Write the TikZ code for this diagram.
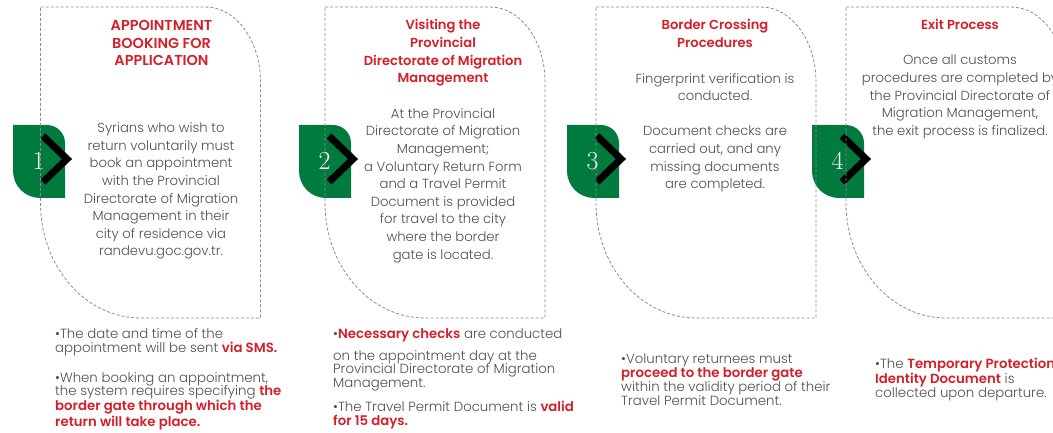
\documentclass[tikz,border=0pt]{standalone}
\usepackage{fontspec}
\newfontfamily\pop{Poppins}[UprightFont=* Light, BoldFont=* SemiBold]
\definecolor{grn}{HTML}{007A3D}
\definecolor{rd}{HTML}{D3202A}
\definecolor{txt}{HTML}{505050}
\definecolor{dsh}{HTML}{8C8C8C}
\newcommand\mycard[1]{%
  \draw[card] (#1,7) -- ({#1+165},7) .. controls ({#1+195.4},7) and ({#1+220},40.6) .. ({#1+220},82)
    -- ({#1+220},318) -- ({#1+100},318) .. controls ({#1+44.8},318) and (#1,266.5) .. (#1,203) -- cycle;}
\newcommand\mybadge[3]{% #1 left, #2 number, #3 name
  \fill[badge] (#1,125) -- ({#1+34},125) .. controls ({#1+43.9},125) and ({#1+52},133.1) .. ({#1+52},143)
    -- ({#1+52},198) -- ({#1+27},198) .. controls ({#1+12.1},198) and (#1,185.9) .. (#1,171) -- cycle;
  \draw[chev] ({#1+30},136) -- ({#1+54},159) -- ({#1+30},182);
  \node[num] (#3) at ({#1+25.5},161) {#2};}
\newcommand\rb[1]{{\color{rd}\bfseries #1}}
\begin{document}
\begin{tikzpicture}[x=1pt,y=-1pt,
  card/.style={draw=dsh, line width=0.8pt, dash pattern=on 3pt off 2pt},
  badge/.style={fill=grn},
  chev/.style={line width=7pt, miter limit=10, line join=miter, draw=black},
  num/.style={text=white, font=\fontsize{26}{26}\selectfont, inner sep=0},
  ttl/.style={text=rd, font=\pop\bfseries\fontsize{13.1}{17.6}\selectfont, align=center, inner sep=0, anchor=base},
  body/.style={text=txt, font=\pop\fontsize{13.2}{17.6}\selectfont, align=center, inner sep=0, anchor=base},
  blt/.style={text=txt, font=\pop\fontsize{13.3}{13.7}\selectfont, align=left, inner sep=0, anchor=base west},
]
\useasboundingbox (0,0) rectangle (1053,433);
\fill[white] (0,0) rectangle (1053,433);
\mybadge{13}{1}{n1}
\mybadge{299}{2}{n2}
\mybadge{567}{3}{n3}
\mybadge{812}{4}{n4}
\mycard{40.5}
\mycard{325}
\mycard{596}
\mycard{846}
% anchor=base is the baseline of the last line
\node[ttl, font=\pop\bfseries\fontsize{14.4}{17.6}\selectfont] (t1) at (161.5,65.7) {APPOINTMENT\\BOOKING FOR\\APPLICATION};
\node[body] (b1) at (161,255.9) {Syrians who wish to\\return voluntarily must\\book an appointment\\with the Provincial\\Directorate of Migration\\Management in their\\city of residence via\\randevu.goc.gov.tr.};
\node[ttl] (t2) at (443,82.8) {Visiting the\\Provincial\\Directorate of Migration\\Management};
\node[body] (b2) at (443,259.1) {At the Provincial\\Directorate of Migration\\Management;\\a Voluntary Return Form\\and a Travel Permit\\Document is provided\\for travel to the city\\where the border\\gate is located.};
\node[ttl] (t3) at (715,47.6) {Border Crossing\\Procedures};
\node[body] (b3) at (715,188.7) {Fingerprint verification is\\conducted.\\[17.6pt]Document checks are\\carried out, and any\\missing documents\\are completed.};
\node[ttl] (t4) at (960,30) {Exit Process};
\node[body] (b4) at (960,135.4) {Once all customs\\procedures are completed by\\the Provincial Directorate of\\Migration Management,\\the exit process is finalized.};
\node[blt] (l1) at (55,426) {•The date and time of the\\appointment will be sent \rb{via SMS.}\\[16pt]•When booking an appointment,\\the system requires specifying \rb{the}\\\rb{border gate through which the}\\\rb{return will take place.}};
\node[blt] (l2) at (333,425) {•\rb{Necessary checks} are conducted\\[8.3pt]on the appointment day at the\\Provincial Directorate of Migration\\Management.\\[8.7pt]•The Travel Permit Document is \rb{valid}\\\rb{for 15 days.}};
\node[blt] (l3) at (621,405) {•Voluntary returnees must\\\rb{proceed to the border gate}\\within the validity period of their\\Travel Permit Document.};
\node[blt] (l4) at (875,397.3) {•The \rb{Temporary Protection}\\\rb{Identity Document} is\\collected upon departure.};
\end{tikzpicture}
\end{document}
